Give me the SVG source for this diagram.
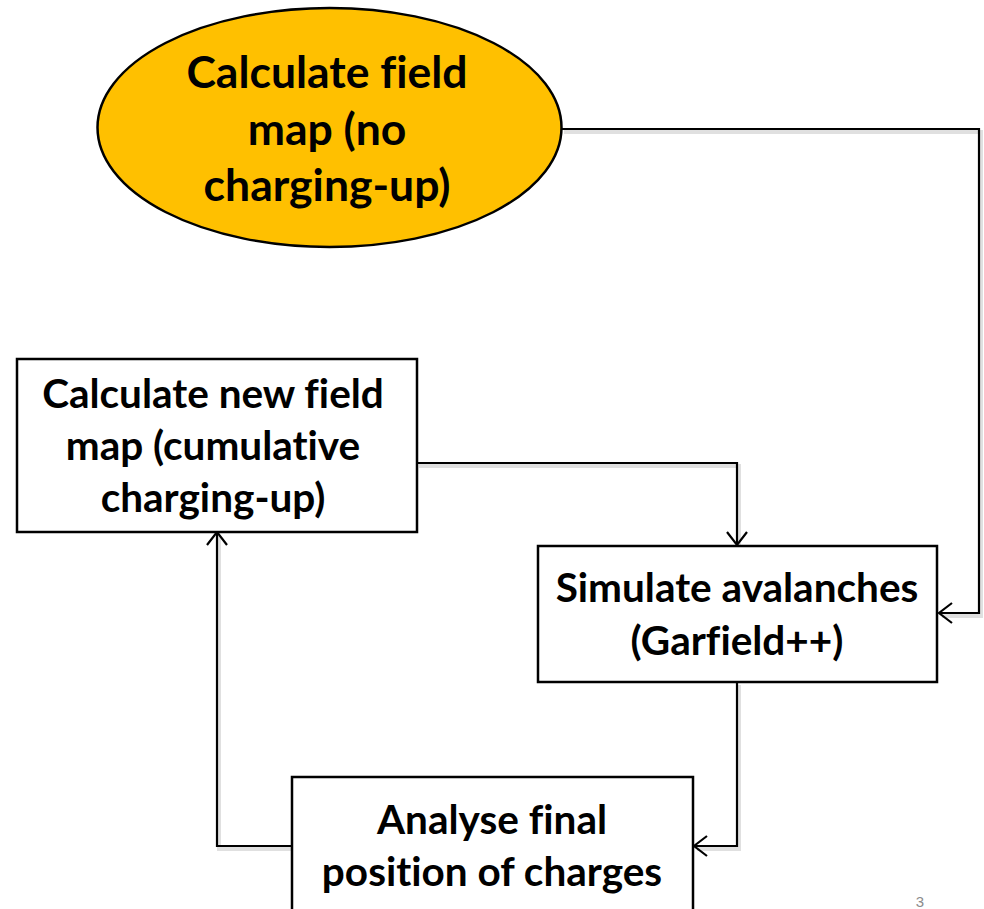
<svg xmlns="http://www.w3.org/2000/svg" width="984" height="909" viewBox="0 0 984 909">
  <style>
    .node { fill: #ffffff; stroke: #000000; stroke-width: 2.5; }
    .start { fill: #ffc000; stroke: #000000; stroke-width: 2.5; }
    .label { font-family: Lato, "Open Sans", "Liberation Sans", sans-serif; font-weight: bold; fill: #000000; text-anchor: middle; font-variant-ligatures: none; }
    .big { font-size: 44.5px; }
    .mid { font-size: 40.5px; }
    .wire { fill: none; stroke: #000000; stroke-width: 2.2; marker-end: url(#open); }
    .wire-shadow { fill: none; stroke: #000000; stroke-opacity: 0.12; stroke-width: 4; }
    .pageno { font-family: "Liberation Sans", sans-serif; font-size: 15px; fill: #8c8c8c; text-anchor: middle; }
  </style>
  <defs>
    <marker id="open" viewBox="0 0 24 24" markerWidth="24" markerHeight="24" refX="22" refY="12" orient="auto" markerUnits="userSpaceOnUse">
      <polyline points="9,2 22,12 9,22" fill="none" stroke="#000000" stroke-width="2.2"/>
    </marker>
  </defs>

  <rect width="984" height="909" fill="#ffffff"/>

  <!-- connectors -->
  <g id="connectors">
    <g transform="translate(2,3)">
      <polyline class="wire-shadow" points="562,129 979,129 979,613 940,613"/>
      <polyline class="wire-shadow" points="417,463 737,463 737,544"/>
      <polyline class="wire-shadow" points="737,682 737,846 695,846"/>
      <polyline class="wire-shadow" points="292,846 217,846 217,533"/>
    </g>
    <polyline class="wire" points="562,129 979,129 979,613 939,613"/>
    <polyline class="wire" points="417,463 737,463 737,545"/>
    <polyline class="wire" points="737,682 737,846 694,846"/>
    <polyline class="wire" points="292,846 217,846 217,532"/>
  </g>

  <!-- start: initial field map -->
  <g id="calc-field-map">
    <ellipse class="start" cx="329.5" cy="127.5" rx="232" ry="119.5"/>
    <text class="label big" x="327" y="88">Calculate field</text>
    <text class="label big" x="327" y="145">map (no</text>
    <text class="label big" x="327" y="201">charging-up)</text>
  </g>

  <!-- recalculated field map -->
  <g id="calc-new-field-map">
    <rect class="node" x="17" y="359" width="400" height="173"/>
    <text class="label mid" x="213" y="408">Calculate new field</text>
    <text class="label mid" x="213" y="460">map (cumulative</text>
    <text class="label mid" x="213" y="512">charging-up)</text>
  </g>

  <!-- avalanche simulation -->
  <g id="simulate-avalanches">
    <rect class="node" x="538" y="546" width="399" height="136"/>
    <text class="label mid" x="737" y="602">Simulate avalanches</text>
    <text class="label mid" x="737" y="655">(Garfield++)</text>
  </g>

  <!-- analysis of charges -->
  <g id="analyse-charges">
    <rect class="node" x="292" y="777" width="401" height="160"/>
    <text class="label mid" x="492" y="834">Analyse final</text>
    <text class="label mid" x="492" y="886">position of charges</text>
  </g>

  <text class="pageno" x="920" y="907">3</text>
</svg>
